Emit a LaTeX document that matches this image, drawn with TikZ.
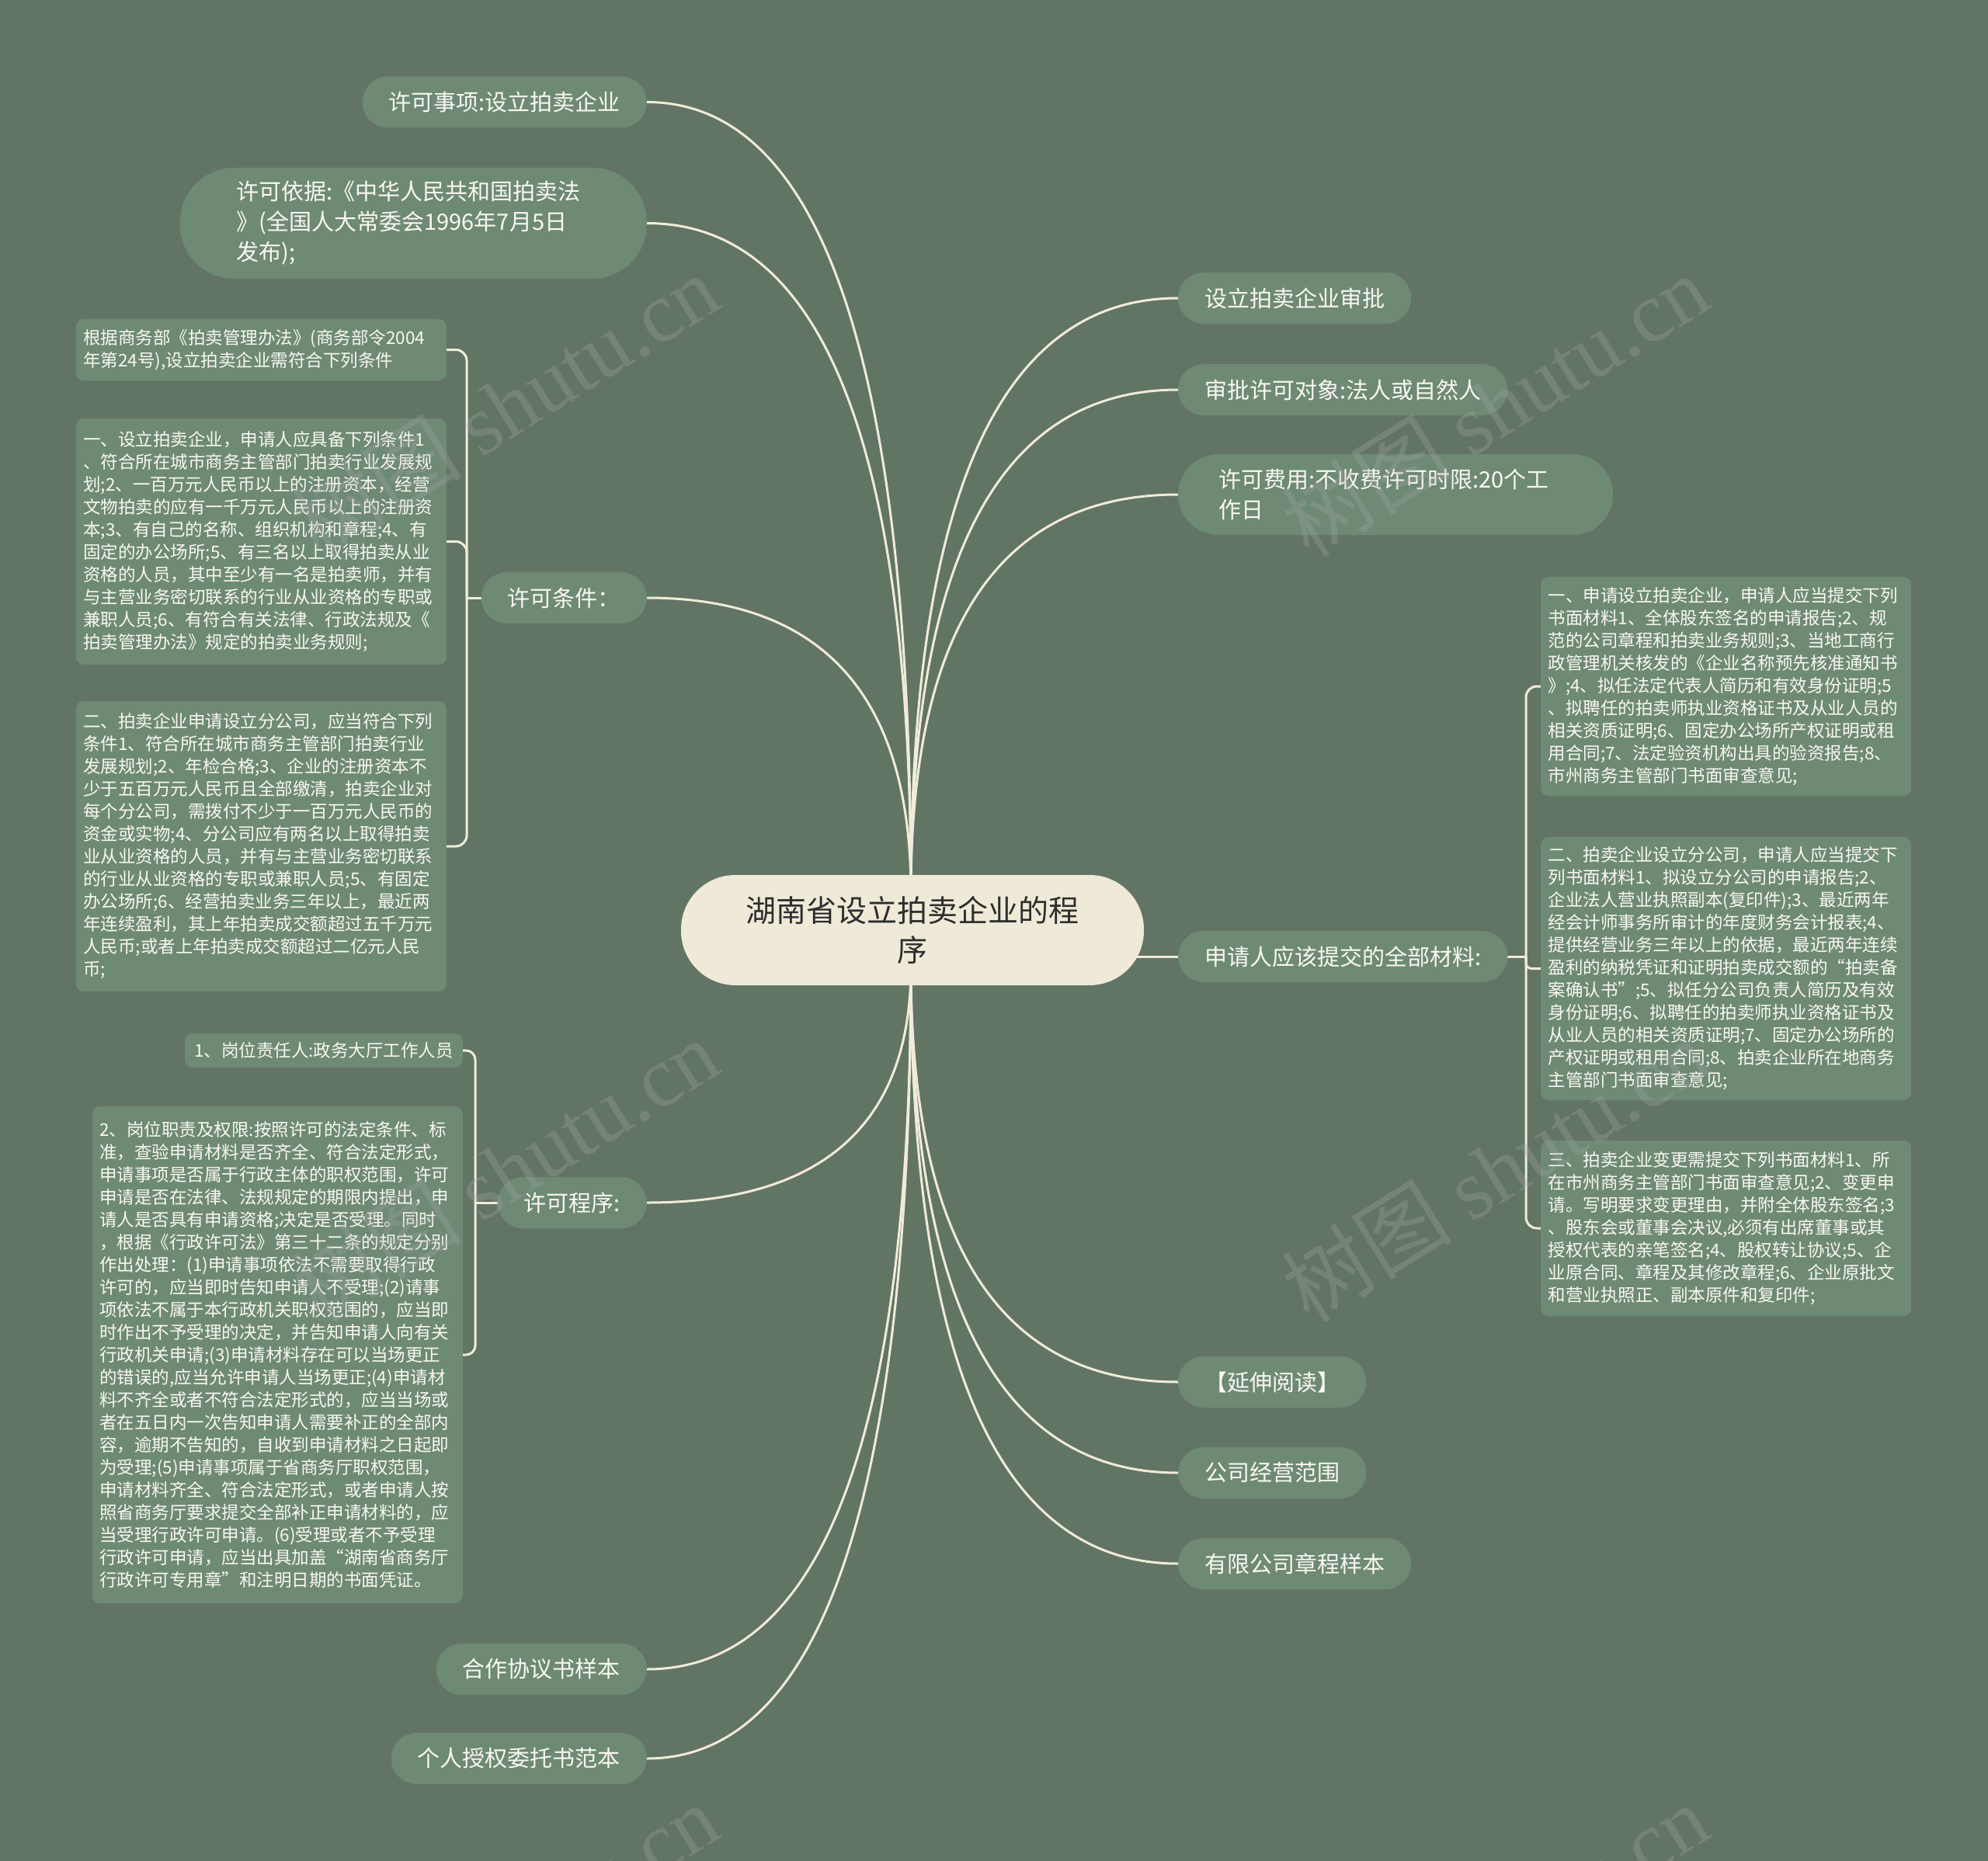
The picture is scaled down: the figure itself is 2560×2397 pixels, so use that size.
\documentclass[tikz,border=0pt]{standalone}
\usepackage{fontspec}
\setmainfont{Noto Sans CJK SC}
\newfontfamily\wmlatin{Liberation Serif}
\usetikzlibrary{calc}
\pgfdeclarelayer{back}
\pgfdeclarelayer{edges}
\pgfdeclarelayer{front}
\pgfsetlayers{back,edges,main,front}
\definecolor{bgc}{RGB}{98,117,100}
\definecolor{nodec}{RGB}{110,138,116}
\definecolor{linec}{RGB}{240,235,218}
\definecolor{ctrc}{RGB}{239,233,216}
\definecolor{txtc}{RGB}{250,248,240}
\definecolor{ctxt}{RGB}{45,45,45}
\definecolor{wmc}{RGB}{170,170,170}
\tikzset{
  mainnode/.style={fill=nodec, text=txtc, font=\fontsize{29}{39}\selectfont,
    inner xsep=34pt, inner ysep=0pt, minimum height=66pt, rounded corners=33pt},
  leafbase/.style={fill=nodec, text=txtc, font=\fontsize{22.5}{29}\selectfont,
    inner ysep=0pt, rounded corners=10pt},
  leaf/.style={leafbase, inner xsep=9.5pt, text width=458pt, align=left},
  conn/.style={draw=linec, line width=3pt},
  wm/.style={text=wmc, opacity=0.28, rotate=32, font=\fontsize{110}{110}\selectfont, inner sep=0pt}
}
\newcommand\fanline[2]{\draw[conn] (#1) .. controls ($(#1)!0.667!(#1|-#2)$) and ($(#2)!0.667!(#1|-#2)$) .. (#2);}
\begin{document}
\begin{tikzpicture}[x=1pt,y=-1pt]
\path[use as bounding box] (0,0) rectangle (2560,2397);
\begin{pgfonlayer}{back}
\fill[bgc] (0,0) rectangle (2560,2397);
\end{pgfonlayer}

% root
\node[fill=ctrc, text=ctxt, font=\fontsize{39}{51}\selectfont, minimum width=596pt,
  minimum height=142pt, rounded corners=70pt, align=center, inner sep=0pt] (root) at (1175,1198)
  {湖南省设立拍卖企业的程\\序};

% left main nodes
\node[mainnode, anchor=east] (a1) at (833,131.5) {许可事项:设立拍卖企业};
\node[mainnode, anchor=east, minimum height=143pt, rounded corners=70pt, inner xsep=73pt,
  text width=455pt, align=left] (a2) at (833,287.5)
  {许可依据:《中华人民共和国拍卖法\\》(全国人大常委会1996年7月5日\\发布);};
\node[mainnode, anchor=east] (a3) at (833,770) {许可条件：};
\node[mainnode, anchor=east] (a4) at (833,1549) {许可程序:};
\node[mainnode, anchor=east] (a5) at (833,2150) {合作协议书样本};
\node[mainnode, anchor=east] (a6) at (833,2265) {个人授权委托书范本};

% right main nodes
\node[mainnode, anchor=west] (b1) at (1517,384) {设立拍卖企业审批};
\node[mainnode, anchor=west] (b2) at (1517,502) {审批许可对象:法人或自然人};
\node[mainnode, anchor=west, minimum height=104pt, rounded corners=52pt, inner xsep=52pt,
  text width=456pt, align=left] (b3) at (1517,637) {许可费用:不收费许可时限:20个工\\作日};
\node[mainnode, anchor=west] (b4) at (1517,1232) {申请人应该提交的全部材料:};
\node[mainnode, anchor=west] (b5) at (1517,1780) {【延伸阅读】};
\node[mainnode, anchor=west] (b6) at (1517,1897) {公司经营范围};
\node[mainnode, anchor=west] (b7) at (1517,2014) {有限公司章程样本};

% left leaves
\node[leaf, anchor=east, minimum height=79pt] (l1) at (575,450.5)
{根据商务部《拍卖管理办法》(商务部令2004\\年第24号),设立拍卖企业需符合下列条件};
\node[leaf, anchor=east, minimum height=317pt] (l2) at (575,697.5)
{一、设立拍卖企业，申请人应具备下列条件1\\
、符合所在城市商务主管部门拍卖行业发展规\\
划;2、一百万元人民币以上的注册资本，经营\\
文物拍卖的应有一千万元人民币以上的注册资\\
本;3、有自己的名称、组织机构和章程;4、有\\
固定的办公场所;5、有三名以上取得拍卖从业\\
资格的人员，其中至少有一名是拍卖师，并有\\
与主营业务密切联系的行业从业资格的专职或\\
兼职人员;6、有符合有关法律、行政法规及《\\
拍卖管理办法》规定的拍卖业务规则;};
\node[leaf, anchor=east, minimum height=374pt] (l3) at (575,1090)
{二、拍卖企业申请设立分公司，应当符合下列\\
条件1、符合所在城市商务主管部门拍卖行业\\
发展规划;2、年检合格;3、企业的注册资本不\\
少于五百万元人民币且全部缴清，拍卖企业对\\
每个分公司，需拨付不少于一百万元人民币的\\
资金或实物;4、分公司应有两名以上取得拍卖\\
业从业资格的人员，并有与主营业务密切联系\\
的行业从业资格的专职或兼职人员;5、有固定\\
办公场所;6、经营拍卖业务三年以上，最近两\\
年连续盈利，其上年拍卖成交额超过五千万元\\
人民币;或者上年拍卖成交额超过二亿元人民\\
币;};
\node[leafbase, anchor=east, minimum height=44pt, inner xsep=12pt] (l4) at (596,1353)
{1、岗位责任人:政务大厅工作人员};
\node[leaf, anchor=east, minimum height=640pt] (l5) at (596,1745)
{2、岗位职责及权限:按照许可的法定条件、标\\
准，查验申请材料是否齐全、符合法定形式，\\
申请事项是否属于行政主体的职权范围，许可\\
申请是否在法律、法规规定的期限内提出，申\\
请人是否具有申请资格;决定是否受理。同时\\
，根据《行政许可法》第三十二条的规定分别\\
作出处理：(1)申请事项依法不需要取得行政\\
许可的，应当即时告知申请人不受理;(2)请事\\
项依法不属于本行政机关职权范围的，应当即\\
时作出不予受理的决定，并告知申请人向有关\\
行政机关申请;(3)申请材料存在可以当场更正\\
的错误的,应当允许申请人当场更正;(4)申请材\\
料不齐全或者不符合法定形式的，应当当场或\\
者在五日内一次告知申请人需要补正的全部内\\
容，逾期不告知的，自收到申请材料之日起即\\
为受理;(5)申请事项属于省商务厅职权范围，\\
申请材料齐全、符合法定形式，或者申请人按\\
照省商务厅要求提交全部补正申请材料的，应\\
当受理行政许可申请。(6)受理或者不予受理\\
行政许可申请，应当出具加盖“湖南省商务厅\\
行政许可专用章”和注明日期的书面凭证。};

% right leaves
\node[leaf, anchor=west, minimum height=282pt] (r1) at (1984,884)
{一、申请设立拍卖企业，申请人应当提交下列\\
书面材料1、全体股东签名的申请报告;2、规\\
范的公司章程和拍卖业务规则;3、当地工商行\\
政管理机关核发的《企业名称预先核准通知书\\
》;4、拟任法定代表人简历和有效身份证明;5\\
、拟聘任的拍卖师执业资格证书及从业人员的\\
相关资质证明;6、固定办公场所产权证明或租\\
用合同;7、法定验资机构出具的验资报告;8、\\
市州商务主管部门书面审查意见;};
\node[leaf, anchor=west, minimum height=339pt] (r2) at (1984,1247.5)
{二、拍卖企业设立分公司，申请人应当提交下\\
列书面材料1、拟设立分公司的申请报告;2、\\
企业法人营业执照副本(复印件);3、最近两年\\
经会计师事务所审计的年度财务会计报表;4、\\
提供经营业务三年以上的依据，最近两年连续\\
盈利的纳税凭证和证明拍卖成交额的“拍卖备\\
案确认书”;5、拟任分公司负责人简历及有效\\
身份证明;6、拟聘任的拍卖师执业资格证书及\\
从业人员的相关资质证明;7、固定办公场所的\\
产权证明或租用合同;8、拍卖企业所在地商务\\
主管部门书面审查意见;};
\node[leaf, anchor=west, minimum height=226pt] (r3) at (1984,1582)
{三、拍卖企业变更需提交下列书面材料1、所\\
在市州商务主管部门书面审查意见;2、变更申\\
请。写明要求变更理由，并附全体股东签名;3\\
、股东会或董事会决议,必须有出席董事或其\\
授权代表的亲笔签名;4、股权转让协议;5、企\\
业原合同、章程及其修改章程;6、企业原批文\\
和营业执照正、副本原件和复印件;};

% connectors
\begin{pgfonlayer}{edges}
\coordinate (ctop) at (1173,1150);
\coordinate (cbot) at (1173,1245);
\coordinate (cright) at (1440,1232);
\fanline{ctop}{a1.east}
\fanline{ctop}{a2.east}
\fanline{ctop}{a3.east}
\fanline{ctop}{b1.west}
\fanline{ctop}{b2.west}
\fanline{ctop}{b3.west}
\fanline{cbot}{a4.east}
\fanline{cbot}{a5.east}
\fanline{cbot}{a6.east}
\fanline{cbot}{b5.west}
\fanline{cbot}{b6.west}
\fanline{cbot}{b7.west}
\draw[conn] (cright) -- (b4.west);
% brackets
\coordinate (k3) at (601,770);
\draw[conn] (a3.west) -- (k3);
\draw[conn, rounded corners=14pt] (k3) |- (l1.east);
\draw[conn, rounded corners=14pt] (k3) |- (l2.east);
\draw[conn, rounded corners=14pt] (k3) |- (l3.east);
\coordinate (k4) at (612,1549);
\draw[conn] (a4.west) -- (k4);
\draw[conn, rounded corners=12pt] (k4) |- (l4.east);
\draw[conn, rounded corners=12pt] (k4) |- (l5.east);
\coordinate (kr) at (1965,1232);
\draw[conn] (b4.east) -- (kr);
\draw[conn, rounded corners=14pt] (kr) |- (r1.west);
\draw[conn, rounded corners=7pt] (kr) |- (r2.west);
\draw[conn, rounded corners=14pt] (kr) |- (r3.west);
\end{pgfonlayer}

% watermarks
\begin{pgfonlayer}{front}
\node[wm] (w1) at (650,522) {树图 {\wmlatin shutu.cn}};
\node[wm] (w2) at (1925,522) {树图 {\wmlatin shutu.cn}};
\node[wm] (w3) at (650,1507) {树图 {\wmlatin shutu.cn}};
\node[wm] (w4) at (1925,1507) {树图 {\wmlatin shutu.cn}};
\node[wm] (w5) at (650,2492) {树图 {\wmlatin shutu.cn}};
\node[wm] (w6) at (1925,2492) {树图 {\wmlatin shutu.cn}};
\end{pgfonlayer}
\end{tikzpicture}
\end{document}
